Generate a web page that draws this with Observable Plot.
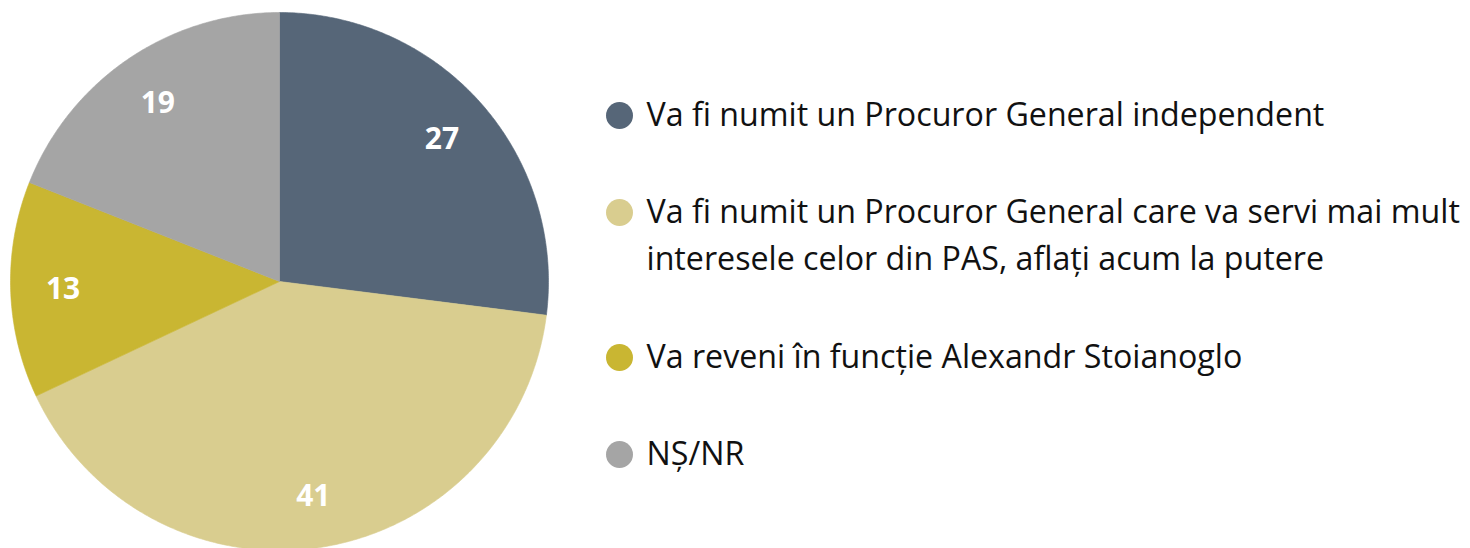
<!DOCTYPE html>
<html>
<head>
<meta charset="utf-8">
<script src="https://cdn.jsdelivr.net/npm/d3@7"></script>
<script src="https://cdn.jsdelivr.net/npm/@observablehq/plot@0.6"></script>
<style>
  html, body { margin: 0; padding: 0; background: #ffffff; }
  #chart svg { display: block; }
</style>
</head>
<body>
<div id="chart"></div>
<script>
// ---- data ----
const categories = ["independent", "PAS", "Stoianoglo", "NS/NR"];
const values = [27, 41, 13, 19];
const legendLabels = [
  "Va fi numit un Procuror General independent",
  "Va fi numit un Procuror General care va servi mai mult\ninteresele celor din PAS, aflați acum la putere",
  "Va reveni în funcție Alexandr Stoianoglo",
  "NȘ/NR"
];
const colors = ["#566678", "#d9cd8f", "#c9b632", "#a5a5a5"];

// ---- layout ----
const W = 1470, H = 548;
const cx = 279, cy = 281, R = 269;
const FONT = "'Open Sans', sans-serif";
const legendX = 619, legendTextX = 646, legendTop = 115, rowGap = 97, lineH = 48, legendFont = 32.2;
const lhEm = lineH / legendFont;
// Plot scales the "middle" baseline offset (0.32em) by lineHeight; bring it back to ~10px
const legendDy = 10 - 0.32 * lhEm * legendFont;

const total = d3.sum(values);
const pie = [];
let acc = 0;
values.forEach((v, i) => {
  const a0 = acc / total * 2 * Math.PI;
  acc += v;
  const a1 = acc / total * 2 * Math.PI;
  pie.push({cat: categories[i], value: v, a0, a1});
});

// polygon outline for each slice (centre + arc)
const slicePts = [];
for (const s of pie) {
  slicePts.push({cat: s.cat, x: cx, y: cy});
  const n = Math.max(2, Math.ceil((s.a1 - s.a0) / (Math.PI / 360)));
  for (let k = 0; k <= n; k++) {
    const a = s.a0 + (s.a1 - s.a0) * k / n;
    slicePts.push({cat: s.cat, x: cx + R * Math.sin(a), y: cy - R * Math.cos(a)});
  }
  slicePts.push({cat: s.cat, x: cx, y: cy});
}

const sliceLabels = pie.map(s => {
  const a = (s.a0 + s.a1) / 2;
  return {cat: s.cat, text: String(s.value), x: cx + 0.805 * R * Math.sin(a), y: cy - 0.805 * R * Math.cos(a)};
});

let extra = 0;
const legendRows = categories.map((c, i) => {
  const lines = legendLabels[i].split("\n").length;
  const y = legendTop + rowGap * i + lineH * extra;
  extra += lines - 1;
  return {cat: c, label: legendLabels[i], y, ty: y + (lines - 1) * lineH / 2};
});

const chart = Plot.plot({
  width: W,
  height: H,
  margin: 0,
  x: {domain: [0, W], range: [0, W], axis: null},
  y: {domain: [0, H], range: [0, H], axis: null},
  color: {domain: categories, range: colors},
  style: {fontFamily: FONT, background: "#ffffff"},
  marks: [
    Plot.line(slicePts, {x: "x", y: "y", z: "cat", fill: "cat", stroke: "cat", strokeWidth: 0.6, curve: "linear"}),
    Plot.text(sliceLabels, {x: "x", y: "y", text: "text", fill: "#ffffff", fontSize: 30, fontWeight: "bold", textAnchor: "middle", dy: 1}),
    Plot.dot(legendRows, {x: () => legendX, y: "y", fill: "cat", r: 13.5, stroke: null}),
    Plot.text(legendRows, {x: () => legendTextX, y: "ty", text: "label", fill: "#111111", fontSize: legendFont, textAnchor: "start", lineHeight: lhEm, dy: legendDy})
  ]
});
document.getElementById("chart").appendChild(chart);
</script>
</body>
</html>
